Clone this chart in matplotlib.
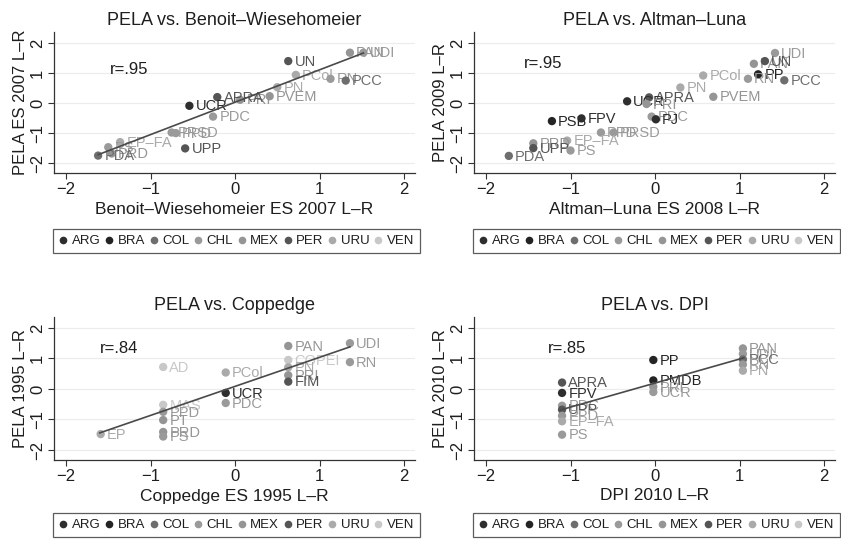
import matplotlib
matplotlib.use("Agg")
import matplotlib.pyplot as plt
from matplotlib.lines import Line2D

plt.rcParams["font.family"] = ["Liberation Sans", "DejaVu Sans"]

COUNTRIES = ["ARG", "BRA", "COL", "CHL", "MEX", "PER", "URU", "VEN"]
COUNTRY_COLORS = ["#2e2e2e", "#242424", "#6e6e6e", "#9a9a9a",
                  "#959595", "#555555", "#aaaaaa", "#c8c8c8"]

# ================= DATA =================
# PELA vs. Benoit-Wiesehomeier
names1 = ["UN", "PAN", "UDI", "PCol", "RN", "PCC", "PN", "PVEM", "PRI", "APRA",
          "UCR", "PDC", "PRSD", "PPD", "UPP", "EP–FA", "PS", "PRD", "PDA"]
country1 = ["PER", "MEX", "CHL", "URU", "CHL", "COL", "URU", "MEX", "MEX", "PER",
            "ARG", "CHL", "CHL", "CHL", "PER", "URU", "CHL", "MEX", "COL"]
x1 = [0.63, 1.36, 1.52, 0.72, 1.13, 1.31, 0.50, 0.41, 0.06, -0.21,
      -0.54, -0.26, -0.75, -0.70, -0.59, -1.36, -1.50, -1.46, -1.62]
y1 = [1.40, 1.68, 1.68, 0.94, 0.81, 0.75, 0.53, 0.23, 0.11, 0.20,
      -0.09, -0.45, -0.98, -1.00, -1.51, -1.30, -1.47, -1.68, -1.75]
fit1_x = [-1.62, 1.52]
fit1_y = [-1.72, 1.67]

# PELA vs. Altman-Luna
names2 = ["UDI", "PAN", "UN", "PP", "RN", "PCC", "PCol", "PN", "PVEM", "APRA",
          "UCR", "PRI", "PDC", "PJ", "PSB", "FPV", "PRSD", "PPD", "EP–FA",
          "PRD", "UPP", "PS", "PDA"]
country2 = ["CHL", "MEX", "PER", "BRA", "CHL", "COL", "URU", "URU", "MEX", "PER",
            "ARG", "MEX", "CHL", "ARG", "BRA", "ARG", "CHL", "CHL", "URU",
            "MEX", "PER", "CHL", "COL"]
x2 = [1.42, 1.17, 1.30, 1.22, 1.10, 1.53, 0.57, 0.30, 0.69, -0.07,
      -0.33, -0.10, -0.04, 0.01, -1.22, -0.87, -0.49, -0.64, -1.04,
      -1.44, -1.44, -1.00, -1.73]
y2 = [1.67, 1.31, 1.40, 0.96, 0.81, 0.76, 0.92, 0.52, 0.21, 0.19,
      0.06, -0.03, -0.45, -0.54, -0.60, -0.51, -0.98, -0.98, -1.25,
      -1.34, -1.50, -1.58, -1.76]

# PELA vs. Coppedge
names3 = ["UDI", "RN", "PAN", "COPEI", "PN", "PRI", "FIM", "AD", "PCol", "UCR",
          "PDC", "MAS", "PPD", "PT", "PRD", "PS", "EP"]
country3 = ["CHL", "CHL", "MEX", "VEN", "URU", "MEX", "PER", "VEN", "URU", "ARG",
            "CHL", "VEN", "CHL", "MEX", "MEX", "CHL", "URU"]
x3 = [1.36, 1.36, 0.63, 0.63, 0.63, 0.63, 0.63, -0.85, -0.11, -0.11,
      -0.11, -0.85, -0.85, -0.85, -0.85, -0.85, -1.59]
y3 = [1.50, 0.88, 1.41, 0.95, 0.71, 0.45, 0.24, 0.72, 0.54, -0.13,
      -0.46, -0.52, -0.75, -1.02, -1.41, -1.56, -1.48]
fit3_x = [-1.60, 1.36]
fit3_y = [-1.44, 1.38]

# PELA vs. DPI
names4 = ["PAN", "UDI", "PCC", "RN", "PN", "PP", "PMDB", "PRI", "UCR",
          "APRA", "FPV", "PDC", "UPP", "PPD", "EP–FA", "PS"]
country4 = ["MEX", "CHL", "COL", "CHL", "URU", "BRA", "BRA", "MEX", "CHL",
            "PER", "ARG", "CHL", "PER", "CHL", "URU", "CHL"]
x4 = [1.04, 1.04, 1.04, 1.04, 1.04, -0.02, -0.02, -0.02, -0.02,
      -1.10, -1.10, -1.10, -1.10, -1.10, -1.10, -1.10]
y4 = [1.33, 1.15, 0.97, 0.80, 0.60, 0.95, 0.28, 0.07, -0.10,
      0.21, -0.13, -0.55, -0.68, -0.88, -1.06, -1.50]
fit4_x = [-1.12, 1.05]
fit4_y = [-0.69, 1.02]

panels = [
    dict(title="PELA vs. Benoit–Wiesehomeier", xlabel="Benoit–Wiesehomeier ES 2007 L–R",
         ylabel="PELA ES 2007 L–R", names=names1, country=country1, x=x1, y=y1,
         fit=(fit1_x, fit1_y), r="r=.95", rpos=(-1.48, 1.11)),
    dict(title="PELA vs. Altman–Luna", xlabel="Altman–Luna ES 2008 L–R",
         ylabel="PELA 2009 L–R", names=names2, country=country2, x=x2, y=y2,
         fit=None, r="r=.95", rpos=(-1.55, 1.31)),
    dict(title="PELA vs. Coppedge", xlabel="Coppedge ES 1995 L–R",
         ylabel="PELA 1995 L–R", names=names3, country=country3, x=x3, y=y3,
         fit=(fit3_x, fit3_y), r="r=.84", rpos=(-1.6, 1.34)),
    dict(title="PELA vs. DPI", xlabel="DPI 2010 L–R",
         ylabel="PELA 2010 L–R", names=names4, country=country4, x=x4, y=y4,
         fit=(fit4_x, fit4_y), r="r=.85", rpos=(-1.27, 1.34)),
]

# ================= LAYOUT =================
W, H = 841, 539
boxes = [(54, 32, 415, 173), (474, 32, 835, 173),
         (54, 317, 415, 460), (474, 317, 835, 460)]
xlabel_y = [210, 496]
legend_y = [241, 525]
ylims = [(-2.33, 2.37), (-2.33, 2.37), (-2.33, 2.36), (-2.33, 2.36)]

fig = plt.figure(figsize=(W / 100, H / 100), dpi=100)
ccol = dict(zip(COUNTRIES, COUNTRY_COLORS))
TXT = "#1e1e1e"

for i, p in enumerate(panels):
    l, t, r, b = boxes[i]
    ax = fig.add_axes([l / W, 1 - b / H, (r - l) / W, (b - t) / H])

    ax.set_xlim(-2.142, 2.13)
    ax.set_ylim(*ylims[i])
    ax.set_xticks([-2, -1, 0, 1, 2])
    ax.set_yticks([-2, -1, 0, 1, 2])
    ax.yaxis.grid(True, color="#ececec", lw=0.8)
    ax.set_axisbelow(True)
    for s in ["top", "right"]:
        ax.spines[s].set_visible(False)
    for s in ["left", "bottom"]:
        ax.spines[s].set_color("#333333")
        ax.spines[s].set_linewidth(0.9)
    ax.tick_params(direction="out", length=4, width=0.8, color="#333333",
                   labelsize=12, labelcolor=TXT, pad=2.5)
    for lab in ax.get_yticklabels():
        lab.set_rotation(90)
        lab.set_va("center")

    if p["fit"] is not None:
        ax.plot(p["fit"][0], p["fit"][1], color="#4a4a4a", lw=1.2, zorder=4)

    for nm, cn, xv, yv in zip(p["names"], p["country"], p["x"], p["y"]):
        c = ccol[cn]
        ax.scatter([xv], [yv], s=36, color=c, edgecolors="none", zorder=3)
        ax.annotate(nm, (xv, yv), xytext=(4.5, -0.5), textcoords="offset points",
                    ha="left", va="center", fontsize=10.5, color=c, zorder=3)

    ax.text(p["rpos"][0], p["rpos"][1], p["r"], fontsize=12, color=TXT,
            ha="left", va="center")

    ax.set_title(p["title"], fontsize=13, color=TXT, pad=5)
    ax.set_xlabel(p["xlabel"], fontsize=12.5, color=TXT)
    ax.xaxis.set_label_coords(0.5, -(xlabel_y[i // 2] - b) / (b - t))
    ax.xaxis.label.set_va("center")
    ax.set_ylabel(p["ylabel"], fontsize=12, color=TXT)
    ax.yaxis.set_label_coords(-(l - (l - 33)) / (r - l), 0.5)
    ax.yaxis.label.set_va("center")

    handles = [Line2D([], [], ls="none", marker="o", markersize=5.5,
                      markerfacecolor=c, markeredgecolor="none")
               for c in COUNTRY_COLORS]
    leg = fig.legend(handles, COUNTRIES, loc="center", ncol=8,
                     bbox_to_anchor=((l + r) / 2 / W + 0.002, 1 - legend_y[i // 2] / H),
                     fontsize=9.5, frameon=True, fancybox=False, handlelength=0.7,
                     handletextpad=0.3, columnspacing=0.3, borderpad=0.45,
                     borderaxespad=0)
    leg.get_frame().set_edgecolor("#333333")
    leg.get_frame().set_linewidth(0.9)
    for tx in leg.get_texts():
        tx.set_color(TXT)

fig.savefig("out.png", dpi=100)
